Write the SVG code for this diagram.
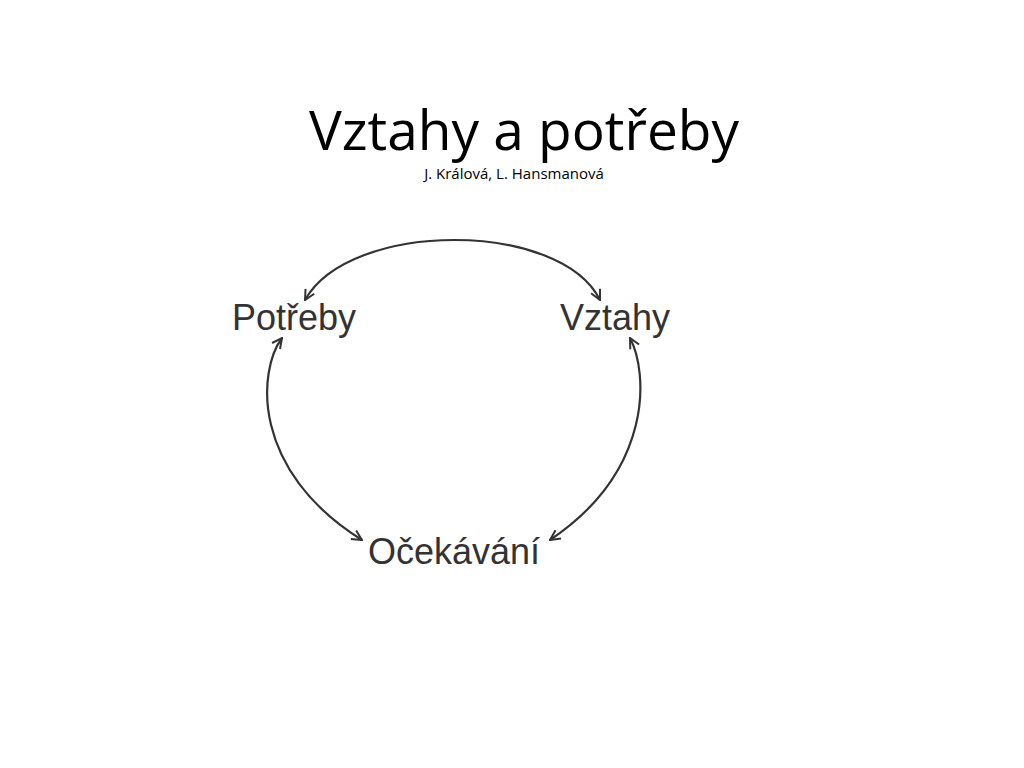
<svg xmlns="http://www.w3.org/2000/svg" width="1024" height="768" viewBox="0 0 1024 768">
<style>
.title{font-family:"Open Sans","Liberation Sans",sans-serif;font-size:55px;fill:#000}
.sub{font-family:"Open Sans","Liberation Sans",sans-serif;font-size:15px;fill:#000}
.lbl{font-family:"Liberation Sans",Arial,sans-serif;font-size:36px;fill:#333}
.arc{fill:none;stroke:#333;stroke-width:2.2;marker-start:url(#ah);marker-end:url(#ah)}
</style>
<defs>
<marker id="ah" viewBox="0 0 12 12" refX="11" refY="6" markerWidth="12" markerHeight="12" markerUnits="userSpaceOnUse" orient="auto-start-reverse">
<path d="M1,1 L11,6 L1,11" fill="none" stroke="#333" stroke-width="2"/>
</marker>
</defs>
<rect width="1024" height="768" fill="#fff"/>
<g id="title">
<text class="title" x="524" y="150" text-anchor="middle">Vztahy a potřeby</text>
<text class="sub" x="514" y="179" text-anchor="middle">J. Králová, L. Hansmanová</text>
</g>
<g id="potreby"><text class="lbl" x="232" y="330">Potřeby</text></g>
<g id="vztahy"><text class="lbl" x="560" y="330">Vztahy</text></g>
<g id="ocekavani"><text class="lbl" x="368" y="564">Očekávání</text></g>
<g id="connectors">
<path class="arc" d="M305,300 C350,220 560,220 600,300"/>
<path class="arc" d="M282,338 C258,370 250,470 362,540"/>
<path class="arc" d="M630,338 C648,372 654,470 550,540"/>
</g>
</svg>
